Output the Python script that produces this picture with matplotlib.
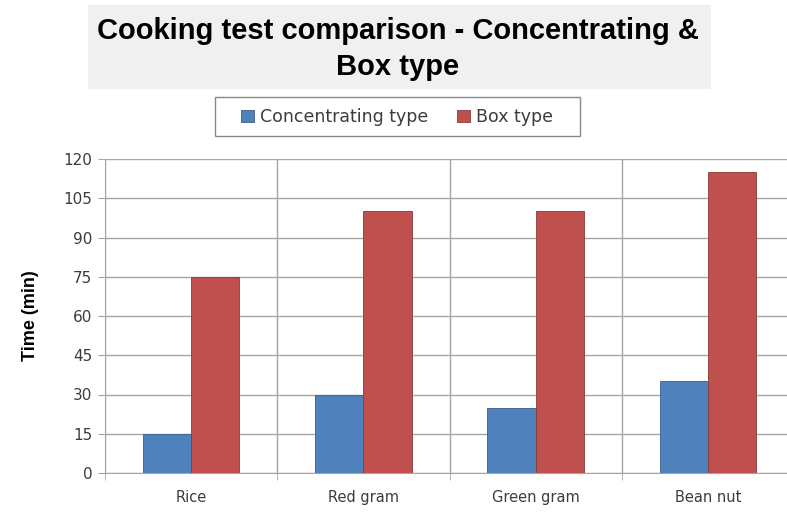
import numpy as np
import matplotlib.pyplot as plt
from matplotlib.patches import Rectangle

foods = ['Rice', 'Red gram', 'Green gram', 'Bean nut']
concentrating = [15, 30, 25, 35]
box = [75, 100, 100, 115]
series_names = ['Concentrating type', 'Box type']

plt.rcParams['font.family'] = ['DejaVu Sans']

W, H = 787, 516
fig = plt.figure(figsize=(W / 100, H / 100), dpi=100)
ax = fig.add_axes([105 / W, 1 - 473 / H, 689 / W, 314 / H])

x = np.arange(len(foods))
w = 0.28
b1 = ax.bar(x - w / 2, concentrating, w, color='#4f81bd', edgecolor='#3a5f8c', linewidth=0.6,
            label=series_names[0], zorder=3)
b2 = ax.bar(x + w / 2, box, w, color='#c0504d', edgecolor='#8c3a38', linewidth=0.6,
            label=series_names[1], zorder=3)

ax.set_xlim(-0.5, len(foods) - 0.5)
ax.set_ylim(0, 120)
ax.set_yticks(np.arange(0, 121, 15))
ax.set_xticks(x)
ax.set_xticklabels(foods)
ax.set_xticks(np.arange(-0.5, len(foods), 1), minor=True)

ax.grid(axis='y', which='major', color='#a6a6a6', linewidth=1.0, zorder=0)
ax.grid(axis='x', which='minor', color='#a6a6a6', linewidth=1.0, zorder=0)

for s in ['top', 'right']:
    ax.spines[s].set_visible(False)
ax.spines['left'].set_color('#a6a6a6')
ax.spines['bottom'].set_color('#a6a6a6')

ax.tick_params(axis='y', colors='#a6a6a6', labelcolor='#3c3c3c', labelsize=11, length=5, pad=4)
ax.tick_params(axis='x', which='major', length=0, labelcolor='#3c3c3c', labelsize=10.5, pad=12)
ax.tick_params(axis='x', which='minor', length=5, color='#a6a6a6')

ax.set_ylabel('Time (min)', fontsize=13, fontweight='bold', labelpad=18,
              family=['Liberation Sans', 'DejaVu Sans'])

# grey title panel
fig.patches.append(Rectangle((88 / W, 1 - 88 / H), 622 / W, 83 / H,
                             transform=fig.transFigure, color='#f0f0f0', zorder=0))
fig.text(398 / W, 1 - 49 / H, 'Cooking test comparison - Concentrating &\nBox type',
         ha='center', va='center', fontsize=21, fontweight='bold',
         family=['Liberation Sans', 'DejaVu Sans'], linespacing=1.32)

# legend with its own frame
fig.legend(handles=[b1, b2], loc='center', bbox_to_anchor=(397 / W, 1 - 117 / H),
           ncol=2, frameon=False, fontsize=12.5,
           handlelength=0.75, handleheight=0.75, handletextpad=0.3, columnspacing=1.7,
           borderpad=0, borderaxespad=0, labelcolor='#3c3c3c')
fig.patches.append(Rectangle((215 / W, 1 - 136 / H), 365 / W, 39 / H,
                             transform=fig.transFigure, facecolor='white',
                             edgecolor='#888888', linewidth=1.0, zorder=0))

fig.savefig('out.png', dpi=100)
